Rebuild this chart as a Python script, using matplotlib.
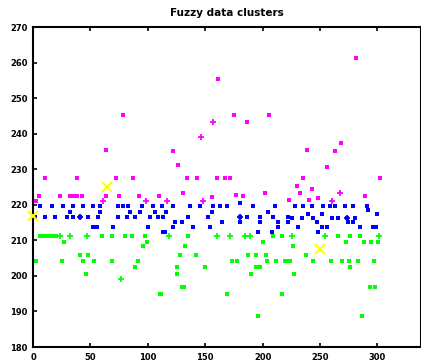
import matplotlib
matplotlib.use("Agg")
import matplotlib.pyplot as plt

# cluster 1 (magenta, upper)
mag_x = [78.7, 63.6, 10.5, 38, 72.3, 86.8, 5.5, 23.5, 32, 35, 38, 43, 63.6, 75.2, 92.6, 110,
         161.4, 175.1, 205.8, 186.7, 121.7, 126.6, 133.9, 142.6, 160.5, 167, 172, 130.9,
         155.6, 176.8, 183.2, 202.1, 223.3, 281.1, 268.3, 239, 263.1, 256.4, 235.5, 302.3,
         229.7, 242.8, 232.6, 289.2, 248.5, 240.4, 3]
mag_y = [245.3, 235.4, 227.6, 227.6, 227.6, 227.6, 222.6, 222.6, 222.6, 222.6, 222.6, 222.6,
         222.6, 222.6, 222.6, 222.6, 255.5, 245.3, 245.3, 243.2, 235.2, 231.2, 227.6, 227.6,
         227.6, 227.6, 227.6, 223.4, 222.3, 222.8, 222.6, 223.3, 221.3, 261.2, 237.3, 235.4,
         235.2, 230.5, 227.6, 227.6, 225.3, 224.4, 223.4, 222.6, 222.0, 221.3, 221.0]
mag_plus_x = [61.2, 98.4, 156.5, 146.1, 117, 148.3, 267.4, 260.2]
mag_plus_y = [221.2, 221.2, 243.2, 239.1, 221.2, 221.2, 223.3, 221.0]

# cluster 2 (blue, middle)
blue_x = [6.1, 16.3, 26.4, 35.1, 43.8, 52.5, 58.4, 74.3, 78.7, 83, 94.7, 104.8, 112.1, 122.2,
          136.8, 145.5, 157.1, 162.9, 168.7, 191.9, 210.8, 228.2, 235.5, 242.8, 252.9, 258.7,
          263.1, 271.8, 279, 290.7,
          180.3,
          32.2, 58.4, 84.5, 93.2, 106.3, 115.9, 155.6, 205, 292.1,
          239.8, 251.5, 300,
          1.7, 10.5, 19.2, 29.4, 35.1, 40.9, 48.2, 56.9, 74.3, 81.6, 88.9, 101.9, 109.2, 113.5,
          135.3, 152.7, 180.3, 186.1, 197.7, 209.3, 222.4,
          225.3, 234.1, 244.2, 260.2, 266, 273.3, 280.5,
          123.7, 129.5, 164.4, 180.3, 197.7, 213.7, 222.4, 247.1, 274.7, 279,
          52.5, 55.5, 70, 100.4, 122.2, 139.6, 154.2, 213.7, 231.1, 251.5, 255.8, 284.8,
          296.4, 298.8,
          113.5, 115, 196.3, 207.9, 248.5]
blue_y = [219.7] * 30 + [220.6] + [218.1] * 8 + [218.5] + [217.4] * 3 + [216.6] * 21 \
    + [216.2] * 7 + [215.3] * 10 + [213.8] * 14 + [212.4] * 5
blue_plus_x = [40.9, 180.3, 273.3]
blue_plus_y = [216.6, 216.6, 216.2]

# cluster 3 (green, lower)
green_x = [6.1, 8.5, 11.3, 14, 17.4, 20, 59.8, 68.6, 80.1, 86, 97.6, 135.3, 209.3, 216.6,
           265.9, 276.1, 284.8,
           27.3, 99, 200.6, 272.6, 288.3, 294.2, 300.8,
           96.1, 132.4, 226.7, 226.2,
           40.9, 48.2, 128, 142, 187.5, 194.3, 203, 237.8,
           2.6, 25.5, 43.8, 53.4, 68.6, 91.7, 173.6, 178, 203.6, 211.4, 219.5, 222.4, 223.9,
           244.2, 259.3, 269.4, 275.5, 283.4, 297,
           88.9, 125.7, 149.8, 194.3, 197.7, 276.1,
           46.2, 125.2, 189.6, 227.4,
           129.5, 131.5, 293.6, 297.9,
           110.6, 111.5, 168.7, 216.6,
           196.3, 286.3]
green_y = [211.2] * 17 + [209.6] * 7 + [208.3] * 4 + [205.9] * 8 + [204.3] * 19 \
    + [202.6] * 6 + [200.4] * 4 + [196.8] * 4 + [194.9] * 4 + [188.8] * 2
green_plus_x = [23.5, 32.2, 47.3, 76.4, 118.7, 160, 171.6, 184.7, 189, 225.3, 254.4, 301.7]
green_plus_y = [211.2, 211.2, 211.2, 199.0, 211.2, 211.2, 211.2, 211.2, 211.2, 211.2, 211.2, 211.2]

# cluster centres
centre_x = [0, 64.5, 250]
centre_y = [216.8, 225.0, 207.6]

fig = plt.figure(figsize=(4.21, 3.63), dpi=100)
ax = fig.add_axes([0.0784, 0.044, 0.9216, 0.8815])

for xs, ys, xp, yp, col in [(mag_x, mag_y, mag_plus_x, mag_plus_y, '#ff00ff'),
                            (blue_x, blue_y, blue_plus_x, blue_plus_y, '#0000ff'),
                            (green_x, green_y, green_plus_x, green_plus_y, '#00ff00')]:
    ax.plot(xs, ys, linestyle='none', marker='s', markersize=2.2, color=col, mew=0)
    ax.plot(xp, yp, linestyle='none', marker='+', markersize=4, color=col, mew=1.3)

ax.plot(centre_x, centre_y, linestyle='none', marker='x', markersize=7, mew=1.5,
        color='#ffff00', clip_on=False, zorder=5)

ax.set_xlim(0, 338)
ax.set_ylim(180, 270)
ax.set_xticks([0, 50, 100, 150, 200, 250, 300])
ax.set_yticks(range(180, 271, 10))
ax.tick_params(direction='in', length=3, width=1.2, labelsize=6, top=True, right=False,
               pad=4)
for lab in ax.get_xticklabels() + ax.get_yticklabels():
    lab.set_fontweight('bold')
for side in ax.spines.values():
    side.set_linewidth(1.5)
ax.set_title("Fuzzy data clusters", fontsize=7.5, fontweight='bold', pad=8)

fig.savefig("out.png", dpi=100)
